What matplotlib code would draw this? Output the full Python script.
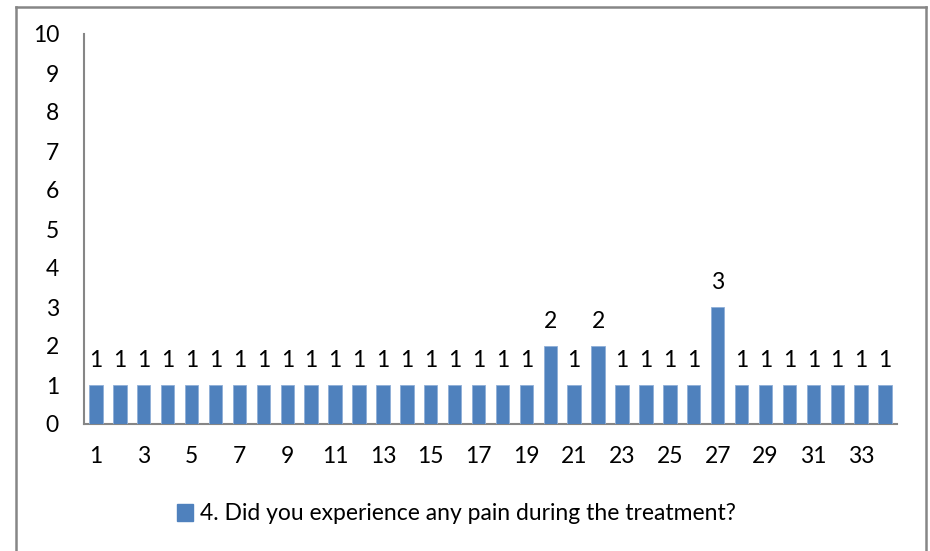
import matplotlib
matplotlib.use("Agg")
import matplotlib.pyplot as plt
from matplotlib.lines import Line2D
from matplotlib.patches import Patch

categories = list(range(1, 35))
values = [1, 1, 1, 1, 1, 1, 1, 1, 1, 1, 1, 1, 1, 1, 1, 1, 1, 1, 1, 2,
          1, 2, 1, 1, 1, 1, 3, 1, 1, 1, 1, 1, 1, 1]
series_name = "4. Did you experience any pain during the treatment?"
yticks = list(range(0, 11))
xtick_labels = [c for c in categories if c % 2 == 1]

plt.rcParams['font.family'] = ['Lato', 'DejaVu Sans']
FS = 16.5
BAR = '#4F81BD'
GREY = '#868686'

fig = plt.figure(figsize=(9.30, 5.51), dpi=100)
W, H = 930, 551
ax = fig.add_axes([84 / W, 1 - 424 / H, (897 - 84) / W, (424 - 34) / H])

ax.bar(categories, values, width=0.56, color=BAR, edgecolor='#8FAFD8', linewidth=0.6, zorder=3)
for c, v in zip(categories, values):
    ax.annotate(str(v), (c, v), xytext=(0, 10), textcoords='offset points',
                ha='center', va='bottom', fontsize=FS, color='black')

ax.set_xlim(0.5, 34.5)
ax.set_ylim(0, 10)
ax.set_yticks(yticks)
ax.set_yticklabels([str(t) for t in yticks], fontsize=FS)
ax.set_xticks(xtick_labels)
ax.set_xticklabels([str(t) for t in xtick_labels], fontsize=FS)
ax.tick_params(axis='y', length=0, pad=18)
ax.tick_params(axis='x', length=0, pad=16)
for s in ['top', 'right']:
    ax.spines[s].set_visible(False)
for s in ['left', 'bottom']:
    ax.spines[s].set_color(GREY)
    ax.spines[s].set_linewidth(1.5)

fig.legend(handles=[Patch(facecolor=BAR, edgecolor=BAR, label=series_name)],
           loc='center', bbox_to_anchor=(456 / W, 1 - 514 / H), frameon=False,
           fontsize=FS, handlelength=0.7, handleheight=0.7, handletextpad=0.3)

# outer chart frame
x0, x1, y0 = 15.5 / W, 925.5 / W, 1 - 6.5 / H
fig.add_artist(Line2D([x0, x0], [0, y0], color=GREY, lw=1.8, transform=fig.transFigure))
fig.add_artist(Line2D([x1, x1], [0, y0], color=GREY, lw=1.8, transform=fig.transFigure))
fig.add_artist(Line2D([x0, x1], [y0, y0], color=GREY, lw=1.8, transform=fig.transFigure))

fig.savefig('out.png', dpi=100)
